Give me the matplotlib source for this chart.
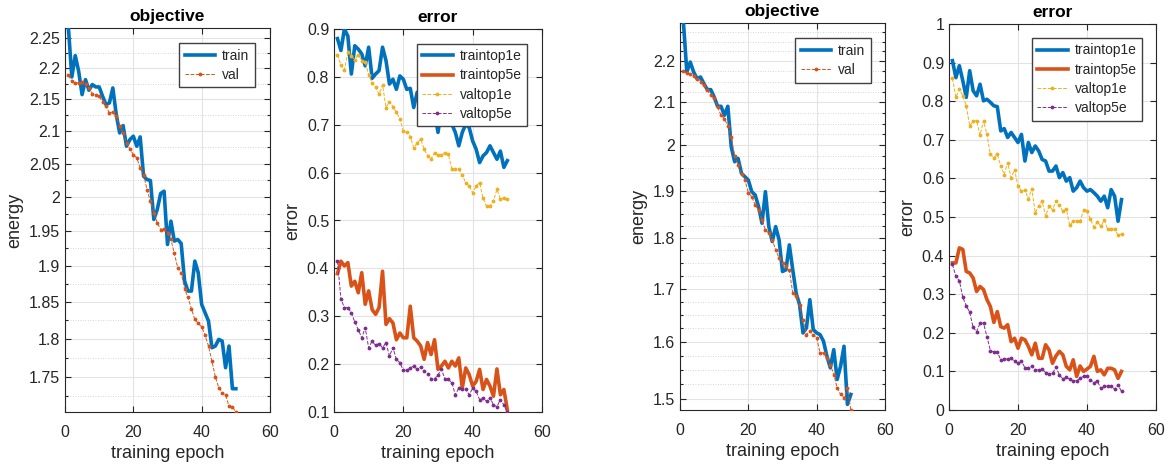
import numpy as np
import matplotlib
matplotlib.use("Agg")
import matplotlib.pyplot as plt
from matplotlib.ticker import MultipleLocator, FuncFormatter, NullFormatter

plt.rcParams['font.family'] = ['Liberation Sans', 'DejaVu Sans']

epochs = list(range(1, 51))

# ---- figure A (left pair) ----
a_train_obj = [2.2667, 2.1859, 2.2208, 2.1951, 2.1575, 2.1816, 2.1645, 2.1736, 2.1698, 2.1698,
               2.1549, 2.1416, 2.1443, 2.1682, 2.1258, 2.0971, 2.1085, 2.0765, 2.0868, 2.0920,
               2.0765, 2.0909, 2.0309, 2.0259, 2.0244, 1.9668, 1.9814, 2.0050, 2.0085, 1.9307,
               1.9643, 1.9355, 1.9378, 1.9321, 1.8790, 1.8651, 1.8651, 1.9070, 1.8906, 1.8468,
               1.8354, 1.8241, 1.7884, 1.7906, 1.7995, 1.7973, 1.7621, 1.7906, 1.7349, 1.7349]
a_val_obj = [2.1886, 2.1789, 2.1762, 2.1762, 2.1773, 2.1746, 2.1688, 2.1591, 2.1575, 2.1549,
             2.1458, 2.1390, 2.1284, 2.1300, 2.1232, 2.1075, 2.0971, 2.0817, 2.0724, 2.0638,
             2.0587, 2.0435, 2.0334, 2.0109, 1.9936, 1.9765, 1.9619, 1.9522, 1.9532, 1.9474,
             1.9378, 1.9179, 1.8976, 1.8906, 1.8674, 1.8568, 1.8408, 1.8263, 1.8209, 1.8165,
             1.8049, 1.7906, 1.7709, 1.7504, 1.7362, 1.7298, 1.7264, 1.7128, 1.7120, 1.7052]
a_train_top1e = [0.880, 0.855, 0.900, 0.885, 0.806, 0.865, 0.858, 0.848, 0.823, 0.862,
                 0.797, 0.806, 0.813, 0.862, 0.834, 0.785, 0.795, 0.774, 0.802, 0.795,
                 0.774, 0.776, 0.736, 0.768, 0.747, 0.712, 0.761, 0.736, 0.726, 0.684,
                 0.733, 0.705, 0.736, 0.701, 0.684, 0.656, 0.684, 0.701, 0.694, 0.666,
                 0.649, 0.621, 0.635, 0.642, 0.656, 0.642, 0.628, 0.645, 0.611, 0.625]
a_train_top5e = [0.389, 0.415, 0.405, 0.412, 0.363, 0.373, 0.349, 0.391, 0.325, 0.353,
                 0.314, 0.304, 0.318, 0.394, 0.283, 0.295, 0.286, 0.251, 0.265, 0.255,
                 0.255, 0.321, 0.255, 0.248, 0.238, 0.210, 0.245, 0.220, 0.251, 0.189,
                 0.196, 0.206, 0.192, 0.206, 0.196, 0.213, 0.150, 0.192, 0.178, 0.154,
                 0.164, 0.189, 0.147, 0.168, 0.154, 0.133, 0.190, 0.136, 0.147, 0.105]
a_val_top1e = [0.846, 0.825, 0.815, 0.851, 0.844, 0.836, 0.846, 0.834, 0.832, 0.804,
               0.788, 0.778, 0.764, 0.783, 0.736, 0.748, 0.738, 0.726, 0.712, 0.687,
               0.684, 0.675, 0.652, 0.662, 0.670, 0.649, 0.635, 0.629, 0.642, 0.636,
               0.636, 0.642, 0.638, 0.607, 0.607, 0.607, 0.595, 0.579, 0.572, 0.558,
               0.572, 0.579, 0.546, 0.530, 0.530, 0.541, 0.565, 0.544, 0.548, 0.544]
a_val_top5e = [0.415, 0.336, 0.318, 0.318, 0.307, 0.288, 0.272, 0.255, 0.276, 0.234,
               0.248, 0.239, 0.243, 0.234, 0.245, 0.217, 0.234, 0.210, 0.203, 0.187,
               0.187, 0.192, 0.196, 0.189, 0.194, 0.185, 0.180, 0.169, 0.169, 0.178,
               0.189, 0.169, 0.168, 0.161, 0.136, 0.150, 0.148, 0.148, 0.136, 0.150,
               0.143, 0.126, 0.130, 0.122, 0.130, 0.115, 0.111, 0.126, 0.115, 0.099]

# ---- figure B (right pair) ----
b_train_obj = [2.3002, 2.1736, 2.1983, 2.1736, 2.1573, 2.1613, 2.1451, 2.1306, 2.1306, 2.1129,
               2.0907, 2.0907, 2.0695, 2.0907, 1.9967, 1.9631, 1.9705, 1.9373, 1.9300, 1.9227,
               1.8975, 1.8904, 1.8656, 1.8307, 1.8975, 1.8238, 1.7931, 1.8238, 1.7965, 1.7332,
               1.7365, 1.7863, 1.7365, 1.6912, 1.6690, 1.6164, 1.6255, 1.6785, 1.6225, 1.6164,
               1.6133, 1.6012, 1.5742, 1.5536, 1.5861, 1.5332, 1.5565, 1.5921, 1.4904, 1.5074]
b_val_obj = [2.1752, 2.1711, 2.1695, 2.1630, 2.1573, 2.1491, 2.1410, 2.1306, 2.1169, 2.1113,
             2.0892, 2.0695, 2.0618, 2.0439, 2.0194, 1.9757, 1.9557, 1.9358, 1.9227, 1.8954,
             1.8868, 1.8691, 1.8585, 1.8376, 1.8169, 1.8101, 1.7965, 1.7763, 1.7596, 1.7497,
             1.7431, 1.7365, 1.6912, 1.6849, 1.6690, 1.6409, 1.6133, 1.6194, 1.6133, 1.6072,
             1.5802, 1.5802, 1.5713, 1.5594, 1.5419, 1.5188, 1.5074, 1.5017, 1.5188, 1.4810]
b_train_top1e = [0.905, 0.861, 0.892, 0.853, 0.810, 0.879, 0.827, 0.814, 0.844, 0.801,
                 0.805, 0.797, 0.788, 0.786, 0.723, 0.729, 0.706, 0.719, 0.706, 0.693,
                 0.714, 0.645, 0.693, 0.667, 0.684, 0.671, 0.649, 0.645, 0.619, 0.619,
                 0.632, 0.602, 0.615, 0.593, 0.602, 0.567, 0.576, 0.593, 0.576, 0.567,
                 0.571, 0.563, 0.554, 0.541, 0.554, 0.524, 0.571, 0.554, 0.489, 0.545]
b_train_top5e = [0.381, 0.381, 0.420, 0.416, 0.359, 0.355, 0.342, 0.307, 0.320, 0.312,
                 0.286, 0.268, 0.227, 0.255, 0.216, 0.212, 0.221, 0.177, 0.186, 0.160,
                 0.186, 0.182, 0.165, 0.143, 0.173, 0.134, 0.134, 0.169, 0.156, 0.121,
                 0.140, 0.152, 0.143, 0.113, 0.104, 0.130, 0.087, 0.114, 0.100, 0.106,
                 0.113, 0.139, 0.100, 0.104, 0.091, 0.108, 0.108, 0.104, 0.082, 0.100]
b_val_top1e = [0.859, 0.810, 0.831, 0.814, 0.788, 0.736, 0.749, 0.749, 0.712, 0.749,
               0.714, 0.662, 0.654, 0.662, 0.632, 0.610, 0.641, 0.602, 0.623, 0.580,
               0.567, 0.570, 0.547, 0.573, 0.511, 0.528, 0.541, 0.502, 0.528, 0.519,
               0.541, 0.530, 0.515, 0.521, 0.478, 0.489, 0.489, 0.489, 0.517, 0.515,
               0.494, 0.474, 0.487, 0.476, 0.492, 0.468, 0.469, 0.469, 0.453, 0.456]
b_val_top5e = [0.377, 0.346, 0.335, 0.292, 0.270, 0.253, 0.214, 0.203, 0.225, 0.225,
               0.190, 0.154, 0.150, 0.150, 0.130, 0.132, 0.132, 0.134, 0.126, 0.121,
               0.126, 0.110, 0.110, 0.113, 0.104, 0.104, 0.106, 0.097, 0.094, 0.095,
               0.111, 0.091, 0.080, 0.085, 0.080, 0.076, 0.076, 0.082, 0.088, 0.088,
               0.078, 0.071, 0.075, 0.056, 0.061, 0.062, 0.062, 0.054, 0.065, 0.048]

BLUE = '#0072BD'
ORANGE = '#D95319'
YELLOW = '#EDB120'
PURPLE = '#7E2F8E'
AXC = '#262626'

W, H = 1171, 465
fig = plt.figure(figsize=(W / 100, H / 100), dpi=100)

gfmt = FuncFormatter(lambda v, p: f'{round(v, 4):g}')


def mk_axes(l, r, t, b):
    return fig.add_axes([l / W, (H - b) / H, (r - l) / W, (b - t) / H])


def style(ax, ylim, ymaj, ymin=None, log=False):
    if log:
        ax.set_yscale('log')
    ax.set_xlim(0, 60)
    ax.set_ylim(*ylim)
    ax.xaxis.set_major_locator(MultipleLocator(20))
    ax.yaxis.set_major_locator(MultipleLocator(ymaj))
    ax.yaxis.set_major_formatter(gfmt)
    if ymin:
        ax.yaxis.set_minor_locator(MultipleLocator(ymin))
        ax.yaxis.set_minor_formatter(NullFormatter())
        ax.grid(True, which='minor', axis='y', color='#c8c8c8', linestyle=(0, (1, 2)), linewidth=0.6)
    ax.grid(True, which='major', color='#e3e3e3', linestyle='-', linewidth=0.8)
    ax.set_axisbelow(True)
    ax.tick_params(which='both', direction='in', top=True, right=True, colors=AXC,
                   labelsize=11.5, length=4, width=0.8)
    ax.tick_params(which='minor', length=2.5)
    ax.tick_params(axis='x', pad=9)
    for s in ax.spines.values():
        s.set_color(AXC)
        s.set_linewidth(0.8)
    ax.set_xlabel('training epoch', fontsize=13, color=AXC, labelpad=4)


def leg(ax, x, y):
    lg = ax.legend(loc='upper right', bbox_to_anchor=(x, y), fontsize=10, fancybox=False,
                   framealpha=1, edgecolor='#404040', handlelength=2.2, borderpad=0.4,
                   labelspacing=0.38, handletextpad=0.5, borderaxespad=0)
    lg.get_frame().set_linewidth(1.0)
    for t in lg.get_texts():
        t.set_color(AXC)


def obj_panel(ax, tr, va, ylim, ymaj, ymin, lx, ly):
    ax.plot(epochs, tr, color=BLUE, linewidth=2.6, label='train', zorder=3)
    ax.plot(epochs, va, color=ORANGE, linewidth=0.7, linestyle='--', marker='.',
            markersize=3.5, label='val', zorder=3)
    style(ax, ylim, ymaj, ymin, log=True)
    ax.set_ylabel('energy', fontsize=13, color=AXC)
    ax.set_title('objective', fontsize=12.5, fontweight='bold', pad=5)
    leg(ax, lx, ly)


def err_panel(ax, t1, t5, v1, v5, ylim, lx, ly):
    ax.plot(epochs, t1, color=BLUE, linewidth=2.6, label='traintop1e', zorder=3)
    ax.plot(epochs, t5, color=ORANGE, linewidth=2.6, label='traintop5e', zorder=3)
    ax.plot(epochs, v1, color=YELLOW, linewidth=0.7, linestyle='--', marker='.',
            markersize=3.5, label='valtop1e', zorder=3)
    ax.plot(epochs, v5, color=PURPLE, linewidth=0.7, linestyle='--', marker='.',
            markersize=3.5, label='valtop5e', zorder=3)
    style(ax, ylim, 0.1)
    ax.set_ylabel('error', fontsize=13, color=AXC)
    ax.set_title('error', fontsize=12.5, fontweight='bold', pad=5)
    leg(ax, lx, ly)


ax1 = mk_axes(65, 270, 28, 412)
obj_panel(ax1, a_train_obj, a_val_obj, (1.7052, 2.2667), 0.05, 0.025, 0.927, 0.961)

ax2 = mk_axes(334, 542, 29, 412)
err_panel(ax2, a_train_top1e, a_train_top5e, a_val_top1e, a_val_top5e, (0.1, 0.9), 0.929, 0.962)

ax3 = mk_axes(680, 885, 23, 410)
obj_panel(ax3, b_train_obj, b_val_obj, (1.481, 2.298), 0.1, 0.025, 0.932, 0.960)

ax4 = mk_axes(949, 1156, 24, 410)
err_panel(ax4, b_train_top1e, b_train_top5e, b_val_top1e, b_val_top5e, (0.0, 1.0), 0.933, 0.964)

fig.savefig('out.png', dpi=100)
